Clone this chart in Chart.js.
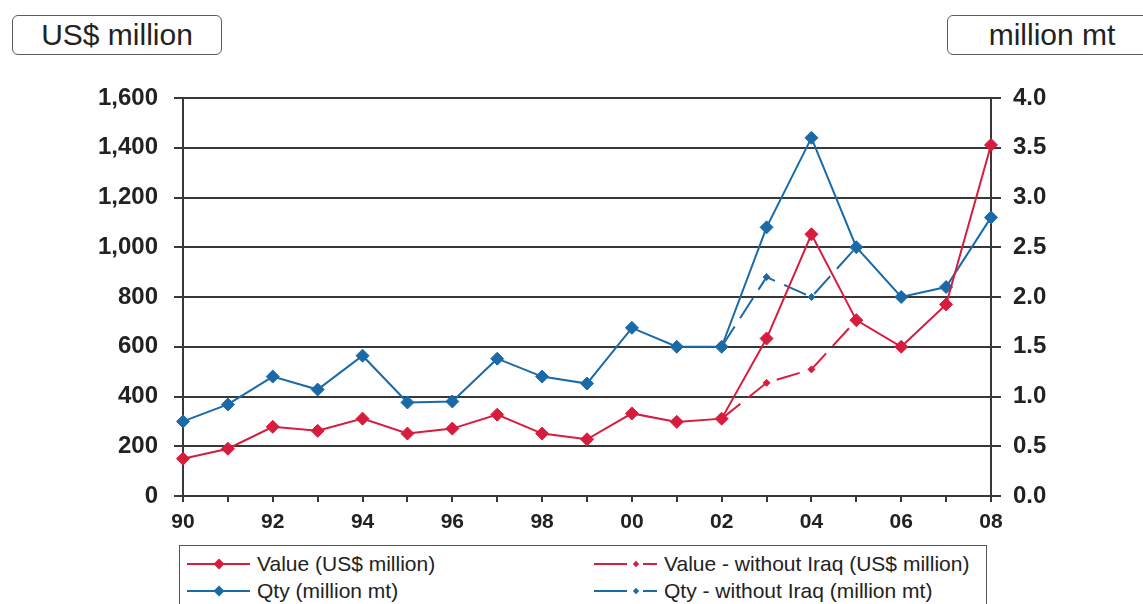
<!DOCTYPE html>
<html>
<head>
<meta charset="utf-8">
<title>Value and quantity</title>
<script src="https://cdn.jsdelivr.net/npm/chart.js@4/dist/chart.umd.min.js"></script>
<style>
  html, body { margin: 0; padding: 0; background: #fff; overflow: hidden; }
  #wrap { position: relative; width: 1143px; height: 604px; overflow: hidden;
          font-family: "Liberation Sans", Arial, sans-serif; }
  #chart { position: absolute; left: 0; top: 0; }
  .unit { position: absolute; top: 15px; width: 208px; height: 38px; line-height: 38px;
          border: 1.5px solid #5c5c5c; border-radius: 6px; font-size: 30px; color: #222;
          text-align: center; background: #fff; }
  #legend { position: absolute; left: 179px; top: 545px; width: 806px; height: 90px;
            border: 1.5px solid #555; background: #fff; }
  .item { position: absolute; height: 26px; display: flex; align-items: center;
          font-size: 21px; color: #222; white-space: nowrap; }
  .item svg { margin-right: 7px; }
</style>
</head>
<body>
<div id="wrap">
  <canvas id="chart" width="1143" height="604"></canvas>
  <div class="unit" style="left:12px;">US$ million</div>
  <div class="unit" style="left:947px;">million mt</div>
  <div id="legend"></div>
</div>
<script>
// Years (two-digit) along the x axis
const years = ['90','91','92','93','94','95','96','97','98','99','00','01','02','03','04','05','06','07','08'];

// Export value, US$ million
const valueUSD = [150, 190, 278, 262, 311, 251, 271, 327, 251, 228, 332, 298, 311, 633, 1052, 707, 600, 770, 1411];
// Export value excluding Iraq, US$ million (differs only 2003-2004)
const valueUSDexIraq = [null, null, null, null, null, null, null, null, null, null, null, null, 311, 455, 509, 707, null, null, null];

// Export quantity, million mt
const qtyMt = [0.75, 0.92, 1.20, 1.07, 1.41, 0.94, 0.95, 1.38, 1.20, 1.13, 1.69, 1.50, 1.50, 2.70, 3.60, 2.50, 2.00, 2.10, 2.80];
// Export quantity excluding Iraq, million mt
const qtyMtExIraq = [null, null, null, null, null, null, null, null, null, null, null, null, 1.50, 2.20, 2.00, 2.50, null, null, null];

// Axis tick values
const valueTicks = [0, 200, 400, 600, 800, 1000, 1200, 1400, 1600];
const qtyTicks = [0, 0.5, 1.0, 1.5, 2.0, 2.5, 3.0, 3.5, 4.0];

const RED = '#d71c3d';
const BLUE = '#1b6aa8';
const GRID = '#383838';
const INK = '#222222';
const FONT = '"Liberation Sans", Arial, sans-serif';

const datasets = [
  { label: 'Value (US$ million)', data: valueUSD, yAxisID: 'y',
    borderColor: RED, backgroundColor: RED, borderWidth: 2,
    pointStyle: 'rectRot', pointRadius: 6.5, pointBorderWidth: 1, legendCol: 0, legendRow: 0 },
  { label: 'Value - without Iraq (US$ million)', data: valueUSDexIraq, yAxisID: 'y',
    borderColor: RED, backgroundColor: RED, borderWidth: 2, borderDash: [24, 10],
    pointStyle: 'rectRot', pointRadius: 3.5, pointBorderWidth: 1, legendCol: 1, legendRow: 0 },
  { label: 'Qty (million mt)', data: qtyMt, yAxisID: 'y1',
    borderColor: BLUE, backgroundColor: BLUE, borderWidth: 2,
    pointStyle: 'rectRot', pointRadius: 6.5, pointBorderWidth: 1, legendCol: 0, legendRow: 1 },
  { label: 'Qty - without Iraq (million mt)', data: qtyMtExIraq, yAxisID: 'y1',
    borderColor: BLUE, backgroundColor: BLUE, borderWidth: 2, borderDash: [24, 10],
    pointStyle: 'rectRot', pointRadius: 3.5, pointBorderWidth: 1, legendCol: 1, legendRow: 1 }
];
datasets.forEach(d => { d.tension = 0; d.spanGaps = false; d.pointHoverRadius = d.pointRadius; });

new Chart(document.getElementById('chart'), {
  type: 'line',
  data: { labels: years, datasets },
  options: {
    responsive: false,
    animation: false,
    events: [],
    layout: { padding: { top: 98, right: 0, bottom: 0, left: 0 } },
    plugins: { legend: { display: false }, tooltip: { enabled: false } },
    scales: {
      x: {
        type: 'category',
        offset: false,
        grid: { drawOnChartArea: false, drawTicks: true, tickLength: 6, color: GRID, lineWidth: 2 },
        border: { display: true, color: GRID, width: 2 },
        ticks: {
          autoSkip: false, maxRotation: 0, padding: 8, color: INK,
          font: { family: FONT, size: 21, weight: 'bold' },
          callback: (v, i) => (i % 2 === 0 ? years[i] : '')
        },
        afterFit: s => { s.height = 108; }
      },
      y: {
        position: 'left', min: 0, max: 1600,
        afterBuildTicks: s => { s.ticks = valueTicks.map(v => ({ value: v })); },
        grid: { color: GRID, lineWidth: 2, tickLength: 9 },
        border: { display: true, color: GRID, width: 2 },
        ticks: {
          padding: 16, color: INK,
          font: { family: FONT, size: 24, weight: 'bold' },
          callback: v => v.toLocaleString('en-US')
        },
        afterFit: s => { s.width = 183; }
      },
      y1: {
        position: 'right', min: 0, max: 4,
        afterBuildTicks: s => { s.ticks = qtyTicks.map(v => ({ value: v })); },
        grid: { drawOnChartArea: false, color: GRID, lineWidth: 2, tickLength: 10 },
        border: { display: true, color: GRID, width: 2 },
        ticks: {
          padding: 12, color: INK,
          font: { family: FONT, size: 24, weight: 'bold' },
          callback: v => v.toFixed(1)
        },
        afterFit: s => { s.width = 152; }
      }
    }
  }
});

// Legend: line sample with a diamond marker, built from the dataset styles
const legend = document.getElementById('legend');
const colLeft = [7, 414];
const rowTop = [5, 32];
datasets.forEach(d => {
  const item = document.createElement('div');
  item.className = 'item';
  item.style.left = colLeft[d.legendCol] + 'px';
  item.style.top = rowTop[d.legendRow] + 'px';
  const c = d.borderColor;
  let svg = '<svg width="63" height="16" viewBox="0 0 63 16">';
  let cx, r;
  if (d.borderDash) {
    // dashed sample: dash, small marker, dash
    cx = 42; r = 3.2;
    svg += '<line x1="0" y1="8" x2="33" y2="8" stroke="' + c + '" stroke-width="2"/>' +
           '<line x1="49" y1="8" x2="63" y2="8" stroke="' + c + '" stroke-width="2"/>';
  } else {
    cx = 32; r = 5.5;
    svg += '<line x1="0" y1="8" x2="63" y2="8" stroke="' + c + '" stroke-width="2"/>';
  }
  svg += '<polygon points="' + (cx - r) + ',8 ' + cx + ',' + (8 - r) + ' ' + (cx + r) + ',8 ' + cx + ',' + (8 + r) + '" fill="' + c + '"/></svg>';
  item.innerHTML = svg + '<span>' + d.label + '</span>';
  legend.appendChild(item);
});
</script>
</body>
</html>
